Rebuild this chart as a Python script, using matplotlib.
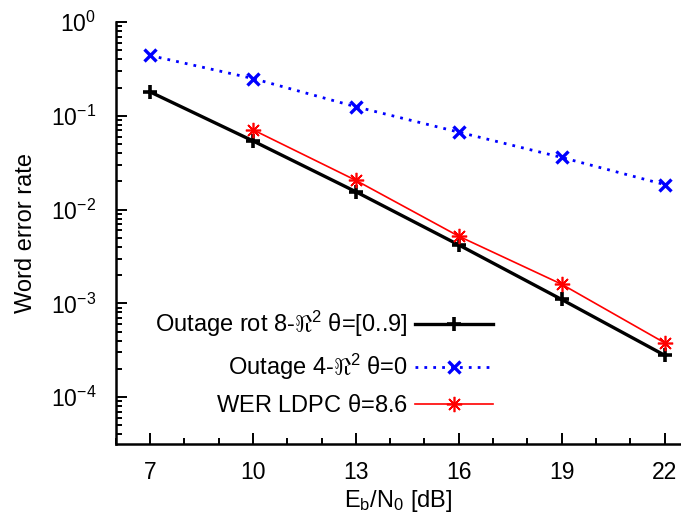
import numpy as np
import matplotlib.pyplot as plt
from matplotlib.ticker import LogLocator, FixedLocator, MultipleLocator, LogFormatterMathtext

plt.rcParams['font.family'] = ['Liberation Sans', 'DejaVu Sans']
plt.rcParams['mathtext.fontset'] = 'custom'
plt.rcParams['mathtext.rm'] = 'Liberation Sans'
plt.rcParams['mathtext.it'] = 'Liberation Sans'

snr = [7, 10, 13, 16, 19, 22]
outage_rot8 = [0.18, 0.054, 0.0155, 0.0042, 0.0011, 0.00028]
outage_4 = [0.44, 0.25, 0.125, 0.067, 0.036, 0.0185]
snr_ldpc = [10, 13, 16, 19, 22]
wer_ldpc = [0.071, 0.0205, 0.0052, 0.0016, 0.00038]

fig = plt.figure(figsize=(6.81, 5.19), dpi=100)
ax = fig.add_axes([0.170, 0.1445, 0.830, 0.813])

ax.plot(snr, outage_rot8, color='black', lw=2.4, marker='+', ms=10, mew=2.6,
        label=r'Outage rot 8-$\Re^2$ $\theta$=[0..9]')
ax.plot(snr, outage_4, color='blue', lw=2.0, ls=(0, (1, 2.2)), marker='x', ms=9, mew=2.4,
        label=r'Outage 4-$\Re^2$ $\theta$=0')
ax.plot(snr_ldpc, wer_ldpc, color='red', lw=1.2, marker=(8, 2, 0), ms=11, mew=1.2,
        label=r'WER LDPC $\theta$=8.6')

ax.set_yscale('log')
ax.set_ylim(10 ** -4.5, 1)
ax.set_xlim(6, 22.48)
ax.xaxis.set_major_locator(FixedLocator(snr))
ax.xaxis.set_minor_locator(MultipleLocator(1))
ax.yaxis.set_major_locator(LogLocator(base=10, numticks=10))
ax.yaxis.set_minor_locator(LogLocator(base=10, subs=np.arange(2, 10), numticks=10))
ax.yaxis.set_major_formatter(LogFormatterMathtext())

for s in ['top', 'right']:
    ax.spines[s].set_visible(False)
for s in ['left', 'bottom']:
    ax.spines[s].set_linewidth(1.8)
ax.tick_params(which='both', direction='in', labelsize=16.5, width=1.4)
ax.tick_params(which='major', length=8)
ax.tick_params(axis='x', which='major', pad=12)
ax.tick_params(axis='y', which='major', pad=14)
ax.tick_params(which='minor', length=4)

ax.set_xlabel(r'E$_\mathregular{b}$/N$_\mathregular{0}$ [dB]', fontsize=17, labelpad=3)
ax.set_ylabel('Word error rate', fontsize=17, labelpad=10)

leg = ax.legend(loc='upper right', bbox_to_anchor=(0.667, 0.32), markerfirst=False,
                frameon=False, fontsize=17, handlelength=3.3, labelspacing=0.55,
                handletextpad=0.3, borderpad=0, borderaxespad=0)
for t in leg.get_texts():
    t.set_ha('right')

fig.savefig('out.png', dpi=100)
